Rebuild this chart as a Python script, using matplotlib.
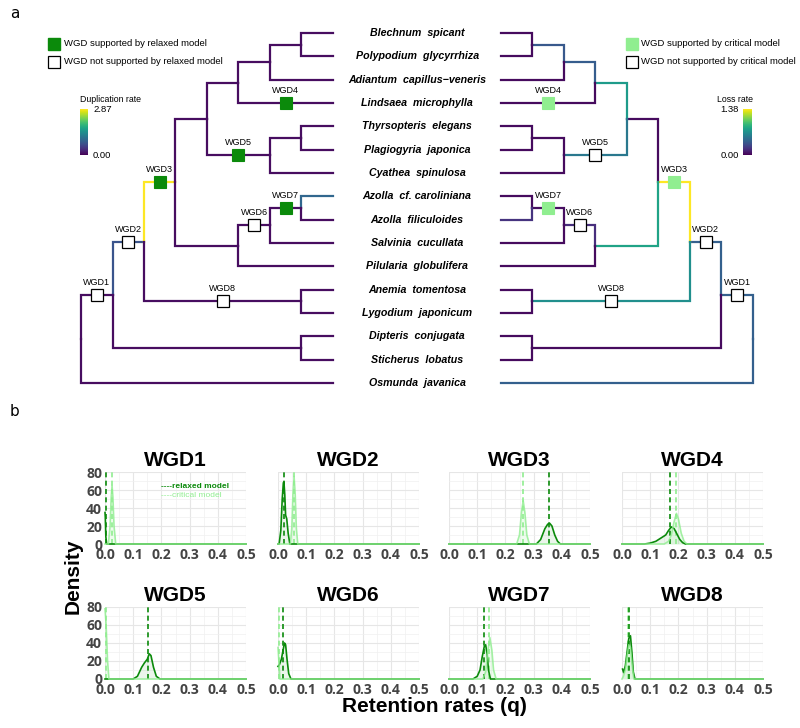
import matplotlib
matplotlib.use('Agg')
import matplotlib.pyplot as plt
import numpy as np
from matplotlib import colors, cm

W, H = 800, 728

# ---------------- tree data ----------------
leaf_names = ["Blechnum  spicant", "Polypodium  glycyrrhiza", "Adiantum  capillus\u2212veneris",
              "Lindsaea  microphylla", "Thyrsopteris  elegans", "Plagiogyria  japonica",
              "Cyathea  spinulosa", "Azolla  cf. caroliniana", "Azolla  filiculoides",
              "Salvinia  cucullata", "Pilularia  globulifera", "Anemia  tomentosa",
              "Lygodium  japonicum", "Dipteris  conjugata", "Sticherus  lobatus", "Osmunda  javanica"]
leaf_parents = ['BP', 'BP', 'BPA', 'Poly5', 'ThyPla', 'ThyPla', 'Cyat6', 'Azo', 'Azo', 'ASA',
                'Salv', 'AnemLygo', 'AnemLygo', 'DipSti', 'DipSti', 'root']
node_names = ['root', 'N1', 'N2', 'N3', 'N4', 'Poly5', 'BPA', 'BP', 'Cyat6', 'ThyPla',
              'Salv', 'ASA', 'Azo', 'AnemLygo', 'DipSti']
node_parents = [None, 'root', 'N1', 'N2', 'N3', 'N4', 'Poly5', 'BPA', 'N4', 'Cyat6',
                'N3', 'Salv', 'ASA', 'N2', 'N1']
node_levels = [0, 1, 2, 3, 4, 5, 6, 7, 6, 7, 5, 6, 7, 7, 7]
TIP_LEVEL = 8

# branch rates (branch leading to node)
dup_internal = [np.nan, 0.10, 0.75, 2.87, 0.10, 0.10, 0.10, 0.10, 0.10, 0.10, 0.10, 0.10, 0.10, 0.10, 0.10]
dup_leaf = [0.10, 0.10, 0.10, 0.10, 0.10, 0.10, 0.10, 0.95, 0.10, 0.10, 0.10, 0.10, 0.10, 0.10, 0.10, 0.10]
loss_internal = [np.nan, 0.42, 0.42, 1.38, 0.04, 0.75, 0.40, 0.38, 0.55, 0.04, 0.80, 0.18, 0.05, 0.68, 0.04]
loss_leaf = [0.04, 0.04, 0.04, 0.04, 0.04, 0.04, 0.04, 0.04, 0.20, 0.04, 0.04, 0.04, 0.04, 0.04, 0.04, 0.42]
DUP_MAX = 2.87
LOSS_MAX = 1.38

wgd_labels = ['WGD1', 'WGD2', 'WGD3', 'WGD4', 'WGD5', 'WGD6', 'WGD7', 'WGD8']
wgd_branch = ['N1', 'N2', 'N3', 'Lindsaea  microphylla', 'Cyat6', 'ASA', 'Azo', 'AnemLygo']
wgd_relaxed = [False, False, True, True, True, False, True, False]
wgd_critical = [False, False, True, True, False, False, True, False]

# ---------------- density data (panel b) ----------------
relaxed_x = [
    [0.0, 0.001, 0.003, 0.006, 0.5],
    [0.0, 0.004, 0.010, 0.015, 0.019, 0.021, 0.024, 0.027, 0.031, 0.036, 0.042, 0.5],
    [0.0, 0.31, 0.325, 0.34, 0.35, 0.357, 0.365, 0.375, 0.385, 0.395, 0.5],
    [0.0, 0.08, 0.10, 0.12, 0.14, 0.155, 0.165, 0.175, 0.185, 0.195, 0.205, 0.215, 0.225, 0.5],
    [0.0, 0.10, 0.115, 0.13, 0.14, 0.15, 0.157, 0.163, 0.172, 0.182, 0.195, 0.5],
    [0.0, 0.005, 0.012, 0.018, 0.023, 0.027, 0.032, 0.038, 0.046, 0.5],
    [0.0, 0.085, 0.10, 0.11, 0.118, 0.125, 0.13, 0.135, 0.14, 0.147, 0.5],
    [0.002, 0.006, 0.012, 0.018, 0.024, 0.030, 0.035, 0.040, 0.046, 0.5],
]
relaxed_y = [
    [35, 30, 8, 0, 0],
    [0, 0, 15, 50, 68, 69, 55, 32, 28, 12, 0, 0],
    [0, 0, 5, 17, 22, 23, 20, 10, 3, 0, 0],
    [0, 0, 1, 3, 7, 10, 15, 19, 17, 11, 5, 1.5, 0, 0],
    [0, 0, 3, 13, 18, 22, 28, 26, 13, 3, 0, 0],
    [14, 16, 22, 32, 40, 38, 22, 6, 0, 0],
    [0, 0, 3, 10, 25, 36, 38, 28, 10, 0, 0],
    [11, 7, 15, 30, 45, 48, 30, 8, 0, 0],
]
critical_x = [
    [0.0, 0.012, 0.018, 0.022, 0.025, 0.028, 0.032, 0.038, 0.5],
    [0.0, 0.044, 0.049, 0.053, 0.057, 0.061, 0.065, 0.070, 0.5],
    [0.0, 0.24, 0.25, 0.257, 0.263, 0.269, 0.276, 0.285, 0.5],
    [0.0, 0.15, 0.165, 0.175, 0.185, 0.193, 0.20, 0.21, 0.22, 0.23, 0.5],
    [0.0, 0.004, 0.009, 0.014, 0.5],
    [0.0, 0.003, 0.007, 0.5],
    [0.0, 0.12, 0.13, 0.137, 0.145, 0.152, 0.158, 0.167, 0.5],
    [0.0, 0.005, 0.012, 0.018, 0.024, 0.030, 0.036, 0.042, 0.5],
]
critical_y = [
    [0, 0, 20, 52, 65, 52, 20, 0, 0],
    [0, 0, 18, 55, 75, 55, 18, 0, 0],
    [0, 0, 10, 35, 48, 35, 10, 0, 0],
    [0, 0, 3, 10, 25, 34, 28, 12, 3, 0, 0],
    [78, 60, 20, 0, 0],
    [35, 20, 0, 0],
    [0, 0, 8, 30, 46, 32, 10, 0, 0],
    [0, 3, 10, 25, 38, 35, 15, 0, 0],
]
relaxed_mean = [0.002, 0.022, 0.355, 0.171, 0.153, 0.018, 0.125, 0.025]
critical_mean = [0.025, 0.057, 0.263, 0.192, 0.002, 0.002, 0.142, 0.022]
x_ticks = [0.0, 0.1, 0.2, 0.3, 0.4, 0.5]
x_minor = [0.05, 0.15, 0.25, 0.35, 0.45]
y_ticks = [0, 20, 40, 60, 80]
y_minor = [10, 30, 50, 70]

DARK = '#0b8a0b'
LIGHT = '#90ee90'
TREE_FONT = 'Liberation Sans'

fig = plt.figure(figsize=(W / 100, H / 100), dpi=100)


def fx(px):
    return px / W


def fy(py):
    return 1 - py / H


# overlay axis in pixel coords for annotations
ov = fig.add_axes([0, 0, 1, 1], zorder=5)
ov.set_xlim(0, W)
ov.set_ylim(H, 0)
ov.axis('off')

# ---------------- panel a: trees ----------------
ax = fig.add_axes([0, fy(400), 1, 400 / H])
LEVEL_PX = 31.5
LEAF_PX = 23.33
ax.set_xlim(-81 / LEVEL_PX, (W - 81) / LEVEL_PX)
ax.set_ylim((400 - 33) / LEAF_PX, -33 / LEAF_PX)
ax.axis('off')
RIGHT_ROOT = 21.33
NAME_X = 10.67

level = {n: l for n, l in zip(node_names, node_levels)}
parent = {n: p for n, p in zip(node_names, node_parents)}
dup = {n: v for n, v in zip(node_names, dup_internal)}
loss = {n: v for n, v in zip(node_names, loss_internal)}
ypos = {}
children = {n: [] for n in node_names}
for i, (nm, p) in enumerate(zip(leaf_names, leaf_parents)):
    level[nm] = TIP_LEVEL
    parent[nm] = p
    dup[nm] = dup_leaf[i]
    loss[nm] = loss_leaf[i]
    ypos[nm] = i
    children[p].append(nm)
for n, p in zip(node_names, node_parents):
    if p is not None:
        children[p].append(n)


def get_y(n):
    if n not in ypos:
        ypos[n] = np.mean([get_y(c) for c in children[n]])
    return ypos[n]


get_y('root')

cmap = plt.get_cmap('viridis')
dnorm = colors.Normalize(0, DUP_MAX)
lnorm = colors.Normalize(0, LOSS_MAX)


def lx(l):
    return l


def rx(l):
    return RIGHT_ROOT - l


for n in list(level.keys()):
    p = parent[n]
    if p is None:
        continue
    ax.plot([lx(level[p]), lx(level[p]), lx(level[n])], [ypos[p], ypos[n], ypos[n]],
            color=cmap(dnorm(dup[n])), lw=1.6, solid_capstyle='projecting', solid_joinstyle='miter')
    ax.plot([rx(level[p]), rx(level[p]), rx(level[n])], [ypos[p], ypos[n], ypos[n]],
            color=cmap(lnorm(loss[n])), lw=1.6, solid_capstyle='projecting', solid_joinstyle='miter')

for i, nm in enumerate(leaf_names):
    ax.text(NAME_X, i, nm, ha='center', va='center', fontsize=7.7, fontweight='bold',
            fontstyle='italic', family=TREE_FONT, color='black')

for lab, b, rel, cri in zip(wgd_labels, wgd_branch, wgd_relaxed, wgd_critical):
    mid = (level[parent[b]] + level[b]) / 2
    yy = ypos[b]
    for xx, sup, fc in [(lx(mid), rel, DARK), (rx(mid), cri, LIGHT)]:
        if sup:
            ax.plot(xx, yy, marker='s', ms=8.6, mfc=fc, mec=fc, mew=0.8, zorder=4)
        else:
            ax.plot(xx, yy, marker='s', ms=8.3, mfc='white', mec='black', mew=0.9, zorder=4)
        ax.text(xx, yy - 0.55, lab, ha='center', va='center', fontsize=6.5, family=TREE_FONT, zorder=5)

# legends
ov.plot(54, 44, marker='s', ms=8.6, mfc=DARK, mec=DARK)
ov.plot(54, 61.5, marker='s', ms=8.3, mfc='white', mec='black', mew=0.9)
ov.text(63.5, 44, 'WGD supported by relaxed model', va='center', fontsize=6.8, family=TREE_FONT)
ov.text(63.5, 61.5, 'WGD not supported by relaxed model', va='center', fontsize=6.8, family=TREE_FONT)
ov.plot(631.5, 44, marker='s', ms=8.6, mfc=LIGHT, mec=LIGHT)
ov.plot(631.5, 61.5, marker='s', ms=8.3, mfc='white', mec='black', mew=0.9)
ov.text(641, 44, 'WGD supported by critical model', va='center', fontsize=6.8, family=TREE_FONT)
ov.text(641, 61.5, 'WGD not supported by critical model', va='center', fontsize=6.8, family=TREE_FONT)

ov.text(80, 100, 'Duplication rate', va='center', ha='left', fontsize=6.3, family=TREE_FONT)
ov.text(735, 100, 'Loss rate', va='center', ha='center', fontsize=6.3, family=TREE_FONT)

cax1 = fig.add_axes([fx(80), fy(155), 7.5 / W, 46 / H])
cb1 = fig.colorbar(cm.ScalarMappable(norm=dnorm, cmap=cmap), cax=cax1, ticks=[0, DUP_MAX])
cb1.ax.set_yticklabels(['0.00', '2.87'], fontsize=6.8, family=TREE_FONT)
cb1.ax.tick_params(length=0, pad=4)
cb1.outline.set_visible(False)

cax2 = fig.add_axes([fx(743), fy(155), 8.5 / W, 46 / H])
cb2 = fig.colorbar(cm.ScalarMappable(norm=lnorm, cmap=cmap), cax=cax2, ticks=[0, LOSS_MAX])
cb2.ax.yaxis.set_ticks_position('left')
cb2.ax.set_yticklabels(['0.00', '1.38'], fontsize=6.8, family=TREE_FONT)
cb2.ax.tick_params(length=0, pad=3)
cb2.outline.set_visible(False)

ov.text(10, 13, 'a', fontsize=11, va='center', ha='left', family='DejaVu Sans')
ov.text(10, 411, 'b', fontsize=11, va='center', ha='left', family='DejaVu Sans')

# ---------------- panel b: densities ----------------
panel_left = [105, 278, 449, 622]
panel_top = [472, 607]
PW, PH = 141, 72
TICK_FONT = 'Open Sans'
for k in range(8):
    r, c = divmod(k, 4)
    a = fig.add_axes([fx(panel_left[c]), fy(panel_top[r] + PH), PW / W, PH / H])
    a.set_xlim(0, 0.5)
    a.set_ylim(0, 80)
    a.set_xticks(x_ticks)
    a.set_xticks(x_minor, minor=True)
    a.set_yticks(y_ticks)
    a.set_yticks(y_minor, minor=True)
    a.grid(which='major', color='#e6e6e6', lw=0.8)
    a.grid(which='minor', color='#f0f0f0', lw=0.5)
    a.set_axisbelow(True)
    for s in a.spines.values():
        s.set_visible(False)
    a.tick_params(which='both', length=0)
    a.set_xticklabels(['0.0', '0.1', '0.2', '0.3', '0.4', '0.5'], fontsize=10, fontweight='bold',
                      family=TICK_FONT, color='#444444')
    a.tick_params(axis='x', pad=3)
    if c == 0:
        a.set_yticklabels(['0', '20', '40', '60', '80'], fontsize=10, fontweight='bold',
                          family=TICK_FONT, color='#444444')
        a.tick_params(axis='y', pad=2)
    else:
        a.set_yticklabels([])
    a.set_title(wgd_labels[k], fontsize=15, fontweight='bold', family='Liberation Sans', pad=4)

    a.fill_between(relaxed_x[k], relaxed_y[k], color=DARK, alpha=0.08, lw=0)
    a.fill_between(critical_x[k], critical_y[k], color=LIGHT, alpha=0.15, lw=0)
    a.plot(relaxed_x[k], relaxed_y[k], color=DARK, lw=1.2, clip_on=False, zorder=3)
    a.plot(critical_x[k], critical_y[k], color=LIGHT, lw=1.2, alpha=0.8, clip_on=False, zorder=3)
    a.axvline(critical_mean[k], color=LIGHT, lw=1.2, ls=(0, (3, 2)), zorder=2)
    a.axvline(relaxed_mean[k], color=DARK, lw=1.2, ls=(0, (3, 2)), zorder=2)
    if k == 0:
        a.text(0.4, 0.80, '----relaxed model', transform=a.transAxes, fontsize=6,
               fontweight='bold', color=DARK, family=TREE_FONT, va='center')
        a.text(0.4, 0.67, '----critical model', transform=a.transAxes, fontsize=6,
               color=LIGHT, family=TREE_FONT, va='center')

ov.text(73, 576, 'Density', rotation=90, ha='center', va='center', fontsize=15,
        fontweight='bold', family='Liberation Sans')
ov.text(434, 707, 'Retention rates (q)', ha='center', va='center', fontsize=15,
        fontweight='bold', family='Liberation Sans')

fig.savefig('out.png', dpi=100)
